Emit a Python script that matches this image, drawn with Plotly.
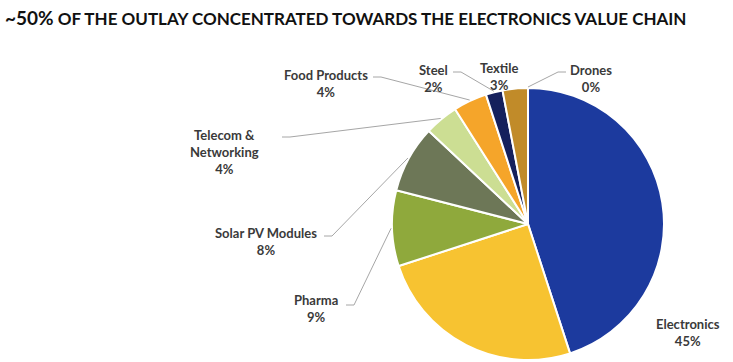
import math
import plotly.graph_objects as go

# ---- data ----
sectors = ["Electronics", "Automobile", "Pharma", "Solar PV Modules",
           "Telecom &<br>Networking", "Food Products", "Steel", "Textile", "Drones"]
shares = [45, 25, 9, 8, 4, 4, 2, 3, 0]
colors = ["#1C3A9E", "#F7C331", "#8FA93C", "#6D7757", "#CCDE93",
          "#F5A52A", "#15205C", "#C18B29", "#7F7F7F"]
show_label = [True, False, True, True, True, True, True, True, True]

W, H = 733, 362
CX, CY, R = 528, 224, 136  # pie centre / radius in px


def px(x):
    return x / W


def py(y):
    return 1 - y / H


fig = go.Figure(go.Pie(
    labels=[s.replace("<br>", " ") for s in sectors],
    values=shares,
    sort=False,
    direction="clockwise",
    rotation=0,
    marker=dict(colors=colors, line=dict(color="white", width=2)),
    textinfo="none",
    hoverinfo="label+percent",
    domain=dict(x=[px(CX - R), px(CX + R)], y=[py(CY + R), py(CY - R)]),
    showlegend=False,
))

# label placement (layout only): label centre, leader-line start
label_pos = {
    "Electronics": (688, 332, None),
    "Pharma": (316, 308, (346, 305)),
    "Solar PV Modules": (266, 242, (324, 236)),
    "Telecom &<br>Networking": (225, 152, (282, 137)),
    "Food Products": (326, 83, (373, 77)),
    "Steel": (433, 78, (453, 72)),
    "Textile": (499, 76, None),
    "Drones": (591, 78, (566, 72)),
}

annotations = []
shapes = []
cum = 0.0
total = sum(shares)
for name, val, show in zip(sectors, shares, show_label):
    mid = (cum + val / 2) / total * 360.0
    cum += val
    if not show:
        continue
    lx, ly, start = label_pos[name]
    annotations.append(dict(
        x=px(lx), y=py(ly), xref="paper", yref="paper",
        text=f"{name}<br>{val}%", showarrow=False,
        font=dict(family="Lato", size=13, color="#3A3A3A", weight="bold"),
        align="center", xanchor="center", yanchor="middle",
    ))
    if start is not None:
        ex = CX + (R + 1) * math.sin(math.radians(mid))
        ey = CY - (R + 1) * math.cos(math.radians(mid))
        sx, sy = start
        kx = sx + (8 if ex > sx else -8)
        shapes.append(dict(
            type="path", xref="paper", yref="paper",
            path=f"M {px(sx)} {py(sy)} L {px(kx)} {py(sy)} L {px(ex)} {py(ey)}",
            line=dict(color="#A6A6A6", width=1),
        ))

annotations.append(dict(
    x=px(3), y=py(17), xref="paper", yref="paper", xanchor="left", yanchor="middle",
    showarrow=False,
    text="<span style='font-size:19px'>~50%</span> OF THE OUTLAY CONCENTRATED TOWARDS THE ELECTRONICS VALUE CHAIN",
    font=dict(family="Lato", size=17, color="#111111", weight="bold"),
))

fig.update_layout(
    width=W, height=H,
    margin=dict(l=0, r=0, t=0, b=0),
    paper_bgcolor="white",
    annotations=annotations,
    shapes=shapes,
)

fig.write_html("out.html", config={"displayModeBar": False},
               post_script="document.body.style.margin='0';")
